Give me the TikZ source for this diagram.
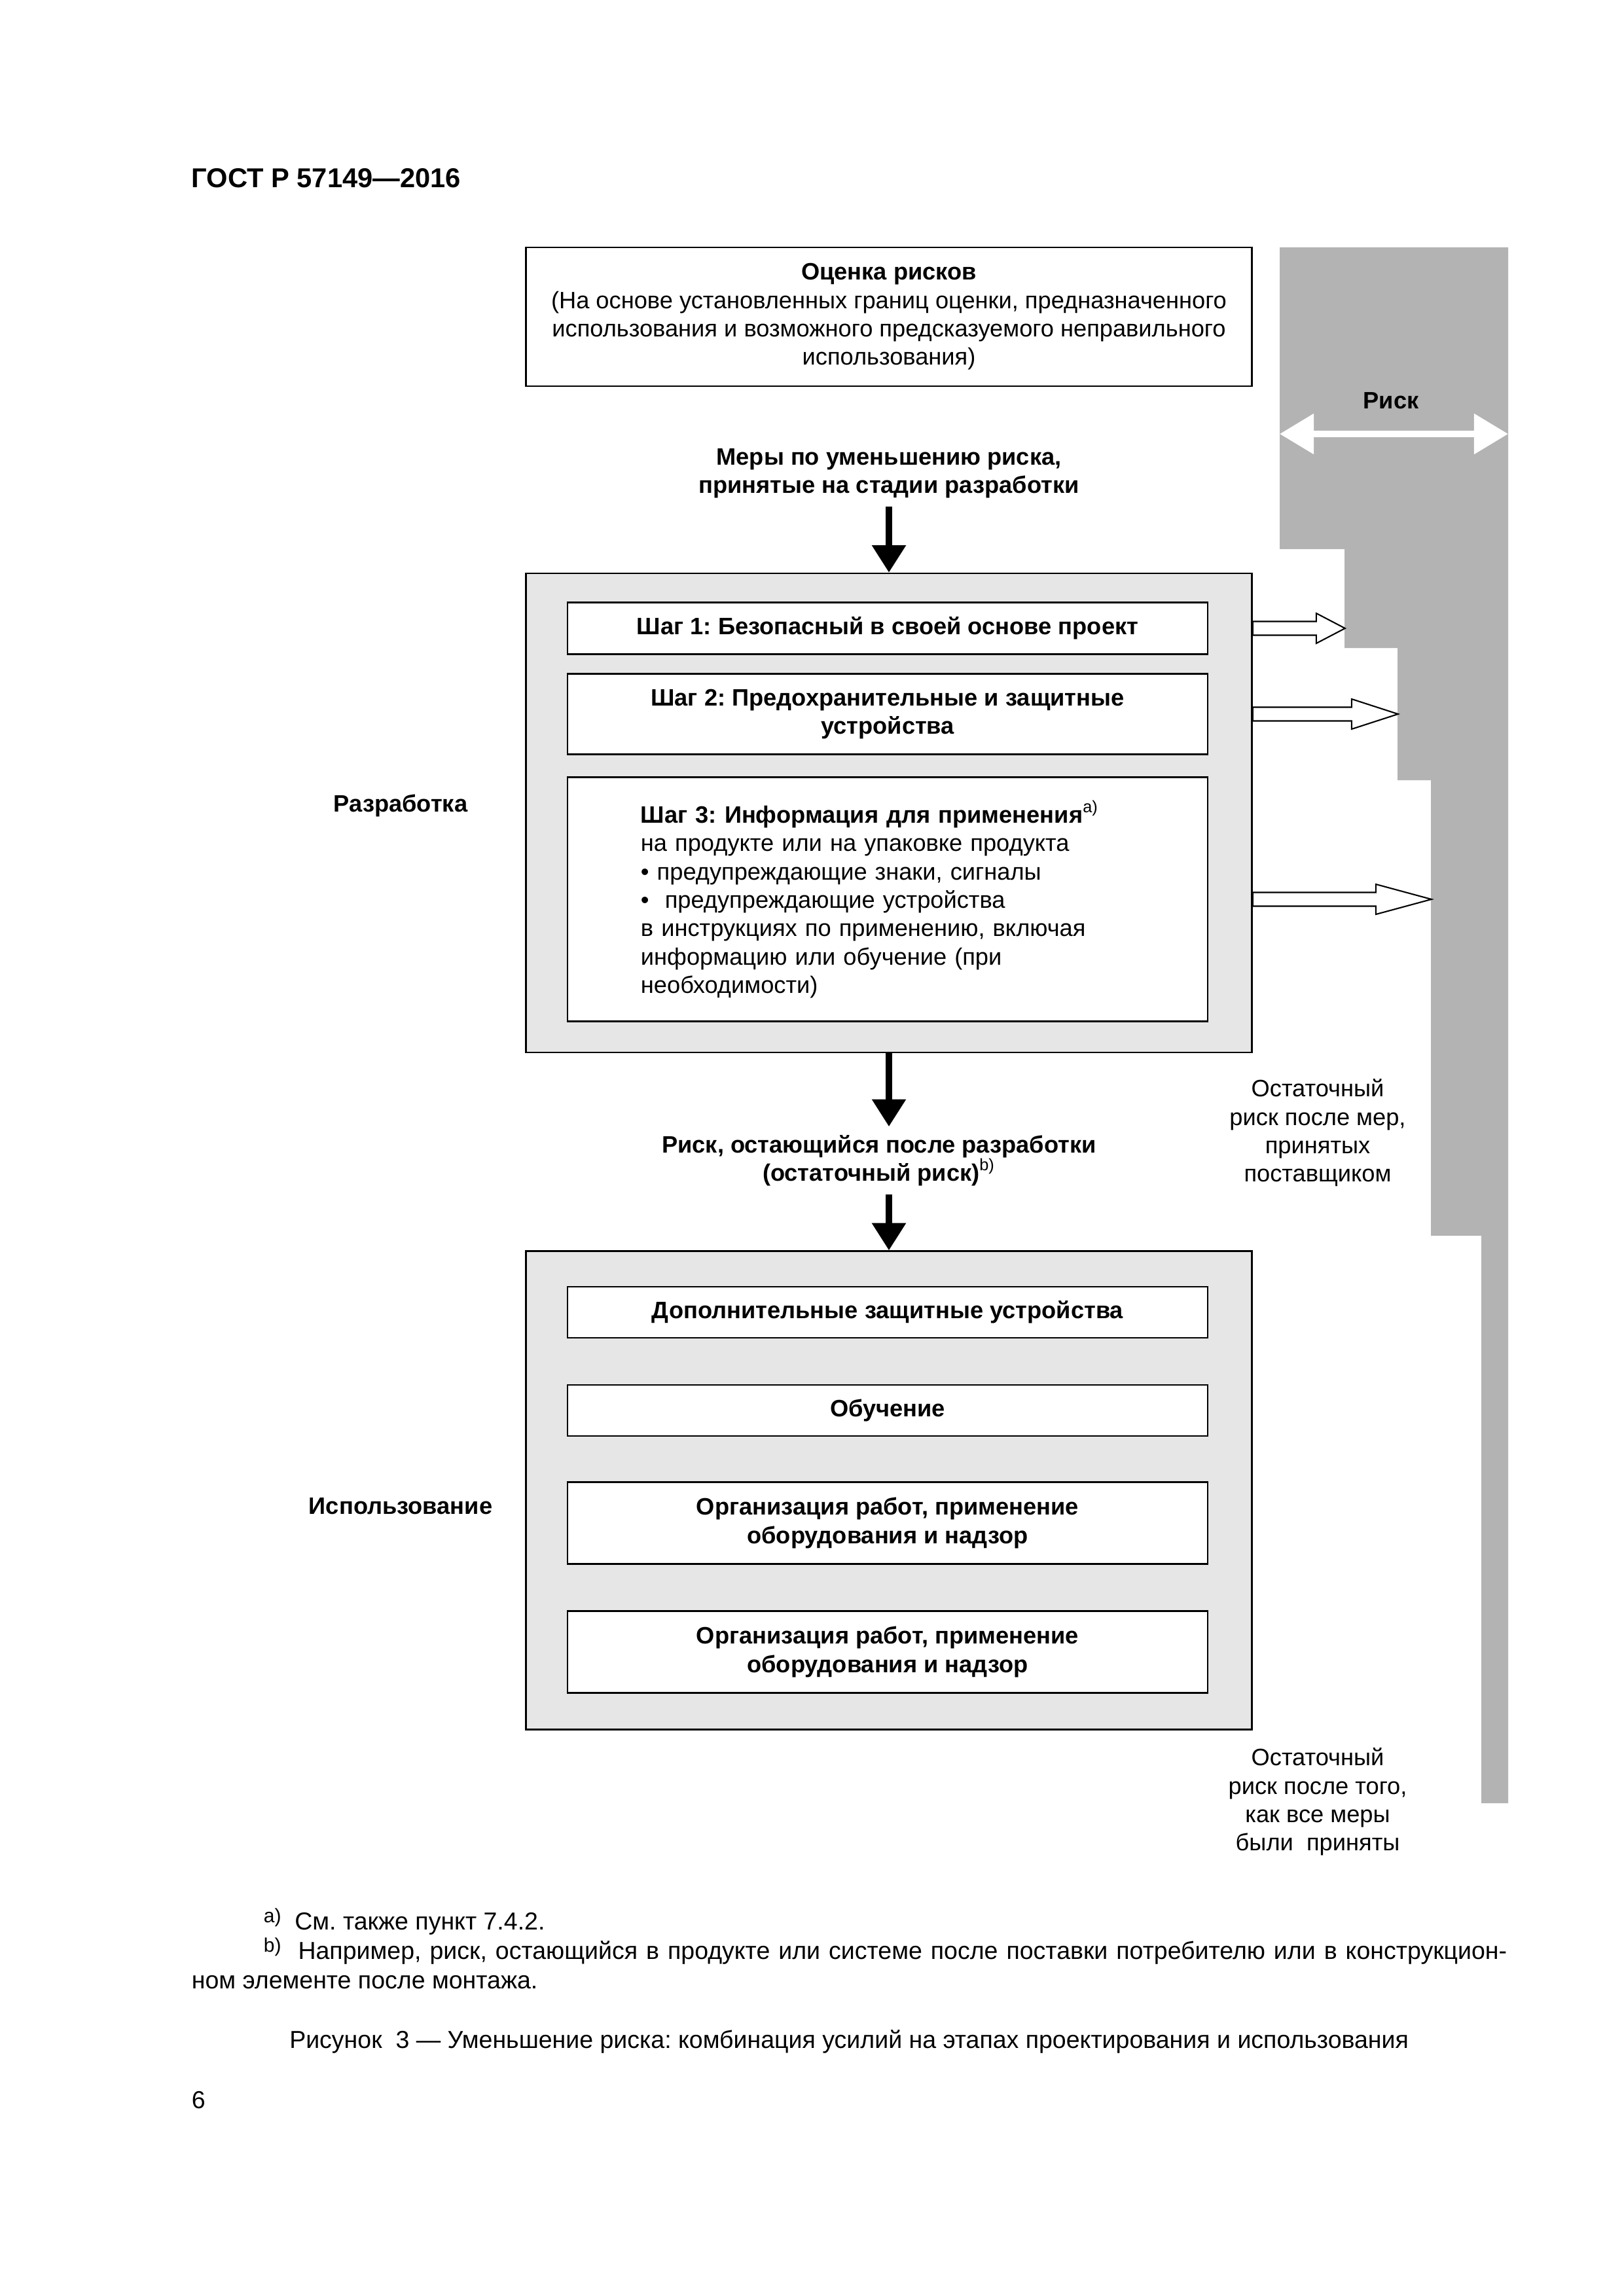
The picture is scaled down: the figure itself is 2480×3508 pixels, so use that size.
\documentclass[tikz,border=0pt]{standalone}
\usepackage{fontspec}
\setmainfont{Liberation Sans}
\usepackage{tikz}
\usetikzlibrary{arrows.meta,calc}
\definecolor{band}{HTML}{B3B3B3}
\definecolor{panel}{HTML}{E6E6E6}
\newcommand{\fnmark}[1]{\raisebox{2.6pt}{\fontsize{7.2pt}{8pt}\selectfont #1}}
\tikzset{
  panelbox/.style={draw=black, line width=0.6pt, fill=panel, minimum width=266.2pt},
  stepbox/.style={draw=black, line width=0.6pt, fill=white, minimum width=234.7pt, align=center, font=\bfseries},
  flow/.style={line width=2.2pt, -{Triangle[length=10pt,width=12pt]}},
  hollow/.style={draw=black, line width=0.5pt, fill=white},
  lab/.style={font=\bfseries, align=center},
  note/.style={align=center},
  pagetext/.style={font=\fontsize{9pt}{10.8pt}\selectfont},
}

\begin{document}
\frenchspacing
\fontsize{8.7pt}{10.4pt}\selectfont
\begin{tikzpicture}[x=0.24pt, y=-0.24pt]
  \useasboundingbox (0,0) rectangle (2480,3508);

  % risk band
  \fill[band] (1955,378) -- (2304,378) -- (2304,2755) -- (2263,2755) -- (2263,1888)
    -- (2186,1888) -- (2186,1192) -- (2135,1192) -- (2135,990) -- (2054,990)
    -- (2054,839) -- (1955,839) -- cycle;
  \coordinate (riskL) at (1955,663);
  \coordinate (riskR) at (2304,663);
  \draw[white, line width=2.2pt, {Triangle[length=12.5pt,width=14.4pt]}-{Triangle[length=12.5pt,width=14.4pt]}] (riskL) -- (riskR);
  \node[lab] (risk) at (2125,612) {Риск};

  \node[anchor=base west, inner sep=0pt, font=\fontsize{10pt}{12pt}\selectfont\bfseries] (gost) at (292,287) {ГОСТ Р 57149—2016};

  \node[draw, line width=0.6pt, minimum width=266.2pt, minimum height=50.9pt, align=center] (assess) at (1358,484)
    {\textbf{Оценка рисков}\\(На основе установленных границ оценки, предназначенного\\использования и возможного предсказуемого неправильного\\использования)};

  \node[lab] (measures) at (1358,723) {Меры по уменьшению риска,\\принятые на стадии разработки};

  % design stage
  \node[panelbox, minimum height=175.7pt] (design) at (1358,1242) {};
  \node[stepbox, minimum height=19pt] (step1) at (1356,960) {Шаг 1: Безопасный в своей основе проект};
  \node[stepbox, minimum height=29.5pt] (step2) at (1356,1091) {Шаг 2: Предохранительные и защитные\\устройства};
  \node[stepbox, minimum height=89.5pt, text width=181pt, inner xsep=26.7pt, align=left, font=\mdseries] (step3) at (1356,1374)
    {\textbf{Шаг 3: Информация для применения}\textsuperscript{a)}\\на продукте или на упаковке продукта\\• предупреждающие знаки, сигналы\\•\ \ предупреждающие устройства\\в инструкциях по применению, включая\\информацию или обучение (при\\необходимости)};
  \node[lab] (stage1) at (612,1231) {Разработка};

  \foreach \s/\L/\H in {step1/97/44, step2/151/71, step3/188/85}
    \draw[hollow] (design.east |- \s.center) ++(0,-10.5) -- ++(\L,0) -- ++(0,-12.5) -- ++(\H,23)
      -- ++(-\H,23) -- ++(0,-12.5) -- ++(-\L,0) -- cycle;

  \node[lab] (remain) at (1343,1773) {Риск, остающийся после разработки\\(остаточный риск)\textsuperscript{\mdseries b)}};

  % use stage
  \node[panelbox, minimum height=175.4pt] (use) at (1358,2277) {};
  \node[stepbox, minimum height=18.7pt] (guards) at (1356,2005) {Дополнительные защитные устройства};
  \node[stepbox, minimum height=18.7pt] (training) at (1356,2155) {Обучение};
  \node[stepbox, minimum height=30pt] (org1) at (1356,2327) {Организация работ, применение\\оборудования и надзор};
  \node[stepbox, minimum height=30pt] (org2) at (1356,2524) {Организация работ, применение\\оборудования и надзор};
  \node[lab] (stage2) at (612,2301) {Использование};

  \draw[flow] (measures.south) -- (design.north);
  \draw[flow] (design.south) -- (design.south |- remain.north);
  \draw[flow] (design.south |- remain.south) -- (use.north);

  \node[note] (after1) at (2013,1731) {Остаточный\\риск после мер,\\принятых\\поставщиком};
  \node[note] (after2) at (2013,2753) {Остаточный\\риск после того,\\как все меры\\были\ \ приняты};

  % footnotes and caption
  \node[pagetext, anchor=north west, text width=482.2pt, align=justify, inner sep=0pt] (notes) at (292,2915)
    {\hspace*{26.4pt}\fnmark{a)}\ \ См. также пункт 7.4.2.\\
     \hspace*{26.4pt}\fnmark{b)}\ \ Например, риск, остающийся в продукте или системе после поставки потребителю или в конструкцион-\linebreak ном элементе после монтажа.};
  \node[pagetext] (caption) at (1297,3119) {Рисунок\ \ 3 — Уменьшение риска: комбинация усилий на этапах проектирования и использования};
  \node[pagetext, anchor=base west, inner sep=0pt] (page) at (292,3221) {6};
\end{tikzpicture}
\end{document}
